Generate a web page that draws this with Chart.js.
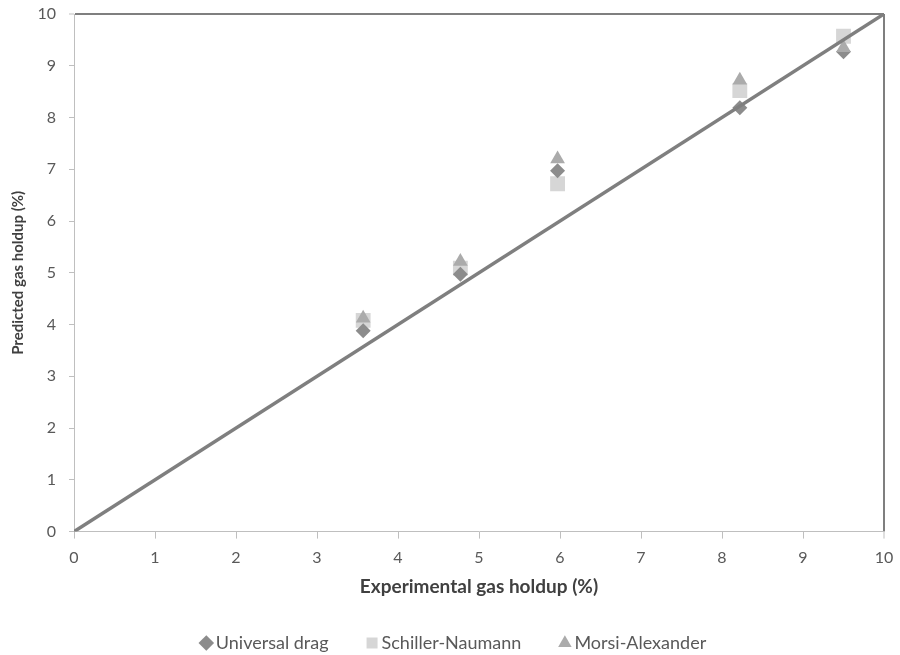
<!DOCTYPE html>
<html>
<head>
<meta charset="utf-8">
<script src="https://cdn.jsdelivr.net/npm/chart.js@4.4.1/dist/chart.umd.min.js"></script>
<style>
  html, body { margin: 0; padding: 0; background: #ffffff; }
  #wrap { width: 900px; height: 655px; position: relative; }
</style>
</head>
<body>
<div id="wrap"><canvas id="c" width="900" height="655"></canvas></div>
<script>
const experimental    = [3.57, 4.77, 5.97, 8.22, 9.50];
const universalDrag   = [3.88, 4.97, 6.97, 8.19, 9.27];
const schillerNaumann = [4.08, 5.09, 6.72, 8.52, 9.57];
const morsiAlexander  = [4.12, 5.22, 7.20, 8.72, 9.35];
const parityLine      = [0, 10];
const seriesNames     = ['Universal drag', 'Schiller-Naumann', 'Morsi-Alexander'];
const xTitle = 'Experimental gas holdup (%)';
const yTitle = 'Predicted gas holdup (%)';

const pts = (xs, ys) => xs.map((x, i) => ({x: x, y: ys[i]}));
const FONT = 'Lato, "Open Sans", sans-serif';

const axisCommon = (title, isX) => ({
  type: 'linear', min: 0, max: 10,
  ticks: { stepSize: 1, color: '#595959', font: { family: FONT, size: 16 }, padding: isX ? 10 : 13 },
  grid: {
    drawOnChartArea: true, drawTicks: true, tickLength: isX ? 7 : 5,
    color: ctx => (ctx.tick && ctx.tick.value === 10) ? '#7f7f7f' : 'rgba(0,0,0,0)',
    lineWidth: ctx => (ctx.tick && ctx.tick.value === 10) ? 2 : 1,
    tickColor: '#bfbfbf', tickWidth: 1
  },
  border: { display: true, color: '#bfbfbf', width: 1 },
  title: {
    display: true, text: title, color: '#404040',
    font: { family: FONT, size: isX ? 19 : 15, weight: 'bold' },
    padding: isX ? { top: 0, bottom: -7 } : { top: -19, bottom: 0 }
  }
});

const xAxis = axisCommon(xTitle, true);
xAxis.afterFit = s => { s.height = 59.4; s.paddingLeft = 0; s.paddingRight = 0; };
const yAxis = axisCommon(yTitle, false);
yAxis.afterFit = s => { s.width = 46; s.paddingTop = 0; s.paddingBottom = 0; };

new Chart(document.getElementById('c'), {
  type: 'scatter',
  data: {
    datasets: [
      { label: seriesNames[0], data: pts(experimental, universalDrag), pointStyle: 'rectRot', radius: 7.5,
        backgroundColor: '#8c8c8c', borderColor: '#8c8c8c', borderWidth: 0, order: 2 },
      { label: seriesNames[1], data: pts(experimental, schillerNaumann), pointStyle: 'rect', radius: 10.5,
        backgroundColor: '#d6d6d6', borderColor: '#d6d6d6', borderWidth: 0, order: 3 },
      { label: seriesNames[2], data: pts(experimental, morsiAlexander), pointStyle: 'triangle', radius: 8.5,
        backgroundColor: '#ababab', borderColor: '#ababab', borderWidth: 0, order: 1 },
      { type: 'line', label: 'parity', data: pts(parityLine, parityLine), borderColor: '#7f7f7f',
        borderWidth: 3.5, pointRadius: 0, fill: false, order: 0 }
    ]
  },
  options: {
    responsive: false, animation: false,
    layout: { padding: { top: 14, right: 16, left: 28, bottom: -7 } },
    scales: { x: xAxis, y: yAxis },
    plugins: {
      tooltip: { enabled: false },
      legend: {
        position: 'bottom',
        labels: {
          usePointStyle: true, boxWidth: 1, boxHeight: 11, padding: 43,
          color: '#595959', font: { family: FONT, size: 18 },
          filter: item => item.text !== 'parity',
          sort: (a, b) => a.datasetIndex - b.datasetIndex
        }
      }
    }
  }
});
</script>
</body>
</html>
